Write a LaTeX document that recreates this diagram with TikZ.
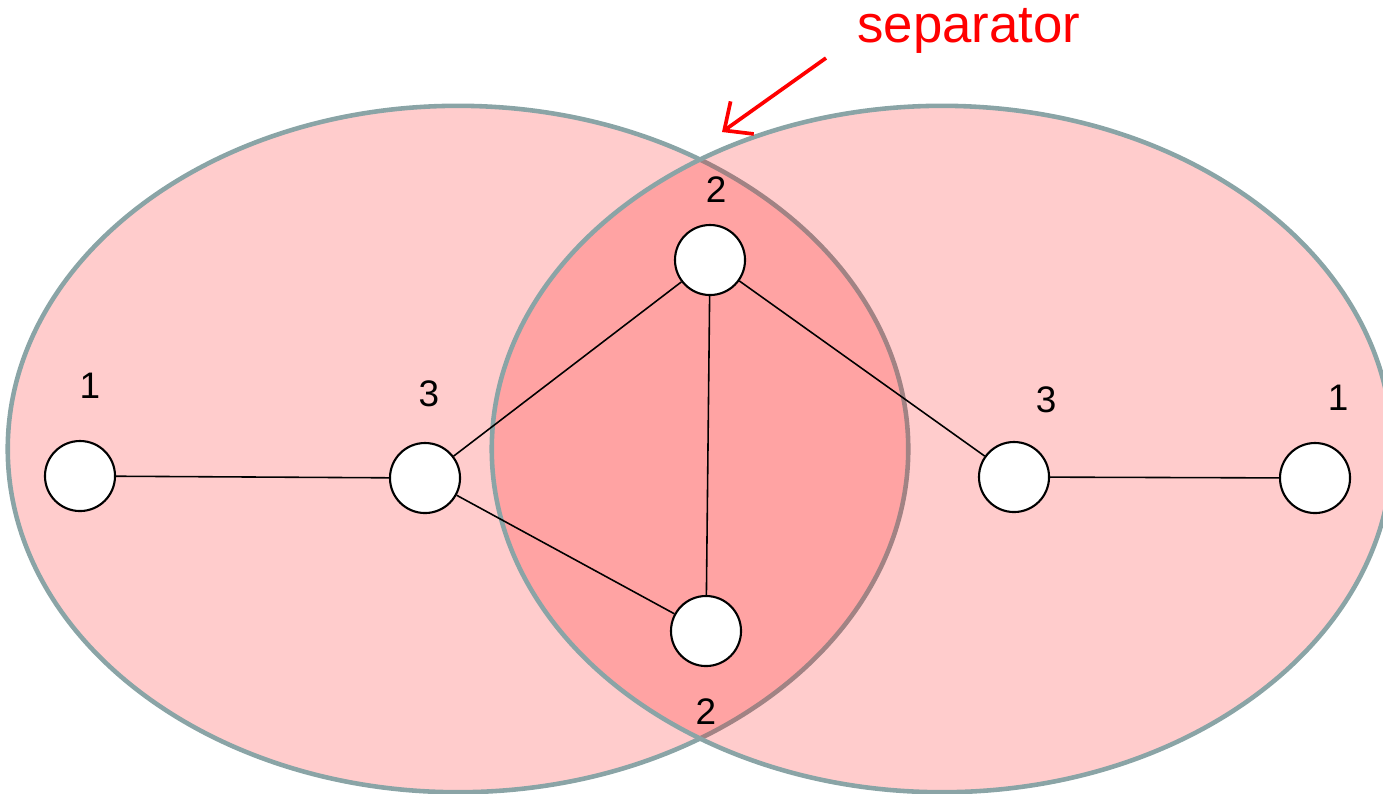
\documentclass[tikz,border=0pt]{standalone}
\usepackage{fontspec}
\setmainfont{Liberation Sans}
\usetikzlibrary{arrows.meta, positioning}
\definecolor{rim}{RGB}{138,164,166}

\begin{document}
\begin{tikzpicture}[
    x=0.01cm, y=-0.01cm,
    part/.style={draw=rim, line width=1.3pt, fill=red, fill opacity=0.2, draw opacity=1},
    vertex/.style={circle, draw=black, line width=0.6pt, fill=white, minimum size=0.7cm, inner sep=0pt},
    num/.style={font=\fontsize{10.5}{12}\selectfont, text=black},
    edge/.style={draw=black, line width=0.45pt},
    pointer/.style={-{Straight Barb[length=2.2mm, width=4mm]}, red, line width=1.05pt}
]
    \useasboundingbox (0,0) rectangle (1383,793);
    \clip (0,0) rectangle (1383,793);

    % Halves
    \path[part] (458,449) ellipse [x radius=4.5cm, y radius=3.43cm];
    \path[part] (942,449) ellipse [x radius=4.5cm, y radius=3.43cm];

    % Nodes
    \node[vertex] (a1) at (80,476) {};
    \node[vertex] (a3) at (425,478) {};
    \node[vertex] (top) at (710,260) {};
    \node[vertex] (bot) at (706,631) {};
    \node[vertex] (b3) at (1014,477) {};
    \node[vertex] (b1) at (1315,478) {};

    % Labels
    \node[num] (la1) at (90,386) {1};
    \node[num] (la3) at (429,394) {3};
    \node[num] (ltop) at (716,190) {2};
    \node[num] (lbot) at (706,712) {2};
    \node[num] (lb3) at (1046,400) {3};
    \node[num] (lb1) at (1338,398) {1};

    % Edges
    \draw[edge] (a1) -- (a3);
    \draw[edge] (a3) -- (top);
    \draw[edge] (a3) -- (bot);
    \draw[edge] (top) -- (bot);
    \draw[edge] (top) -- (b3);
    \draw[edge] (b3) -- (b1);

    % Separator
    \node[text=red, font=\fontsize{15}{18}\selectfont] (sep) at (969,31) {separator};
    \coordinate (tail) at (826,58);
    \coordinate (tip) at (722,132);
    \draw[pointer] (tail) -- (tip);
\end{tikzpicture}
\end{document}
